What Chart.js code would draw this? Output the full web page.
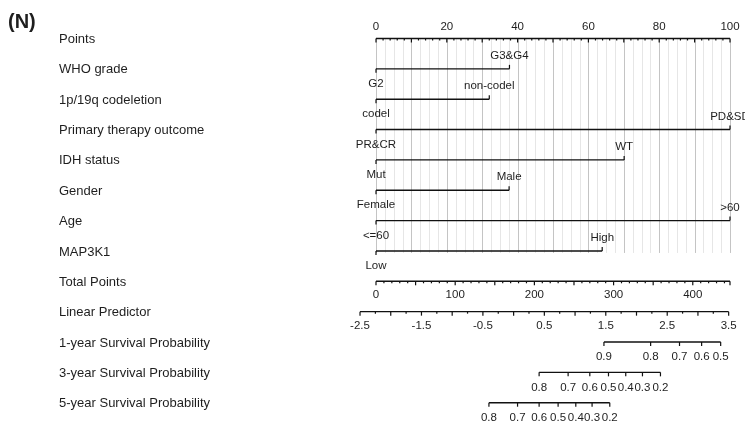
<!DOCTYPE html>
<html><head><meta charset="utf-8">
<script src="https://cdn.jsdelivr.net/npm/chart.js@4"></script>
<style>html,body{margin:0;padding:0;background:#fff}#wrap{width:745px;height:423px;position:relative}</style>
</head><body><div id="wrap"><canvas id="c"></canvas></div>
<script>
const panelTag = '(N)';
const rowLabels = ['Points','WHO grade','1p/19q codeletion','Primary therapy outcome','IDH status','Gender','Age','MAP3K1','Total Points','Linear Predictor','1-year Survival Probability','3-year Survival Probability','5-year Survival Probability'];
const predictorLevels = [['G2','G3&G4'],['codel','non-codel'],['PR&CR','PD&SD'],['Mut','WT'],['Female','Male'],['<=60','>60'],['Low','High']];
const predictorPoints = [[0,37.7],[0,32],[0,100],[0,70.1],[0,37.6],[0,100],[0,63.9]];
const pointsTickLabels = [0,20,40,60,80,100];
const totalPointsTickLabels = [0,100,200,300,400];
const totalPointsMax = 447;
const lpTickLabels = [-2.5,-1.5,-0.5,0.5,1.5,2.5,3.5];
const lpAtZeroTotal = -2.24;
const lpPerTotalPoint = 0.01289;
const surv1Probs = [0.9,0.8,0.7,0.6,0.5];
const surv1LP = [1.47,2.23,2.70,3.06,3.37];
const surv3Probs = [0.8,0.7,0.6,0.5,0.4,0.3,0.2];
const surv3LP = [0.415,0.887,1.24,1.544,1.825,2.097,2.39];
const surv5Probs = [0.8,0.7,0.6,0.5,0.4,0.3,0.2];
const surv5LP = [-0.402,0.064,0.415,0.724,1.012,1.277,1.565];

const totalToPoints = tp => tp * 100 / totalPointsMax;
const lpToPoints = lp => totalToPoints((lp - lpAtZeroTotal) / lpPerTotalPoint);
const survRows = [[surv1Probs, surv1LP], [surv3Probs, surv3LP], [surv5Probs, surv5LP]];

const FONT = '"Liberation Sans", Arial, sans-serif';
const INK = '#1e1e1e';

function seg(x0, x1, row) {
  return {data: [{x: x0, y: row}, {x: x1, y: row}], borderColor: '#111', borderWidth: 1.4,
          pointRadius: 0, clip: false, tension: 0, fill: false};
}
const datasets = [];
datasets.push(seg(0, 100, 0));
predictorPoints.forEach((p, i) => datasets.push(seg(Math.min(...p), Math.max(...p), i + 1)));
datasets.push(seg(totalToPoints(0), totalToPoints(totalPointsMax), 8));
datasets.push(seg(lpToPoints(lpTickLabels[0]), lpToPoints(lpTickLabels[lpTickLabels.length - 1]), 9));
survRows.forEach((s, i) => datasets.push(seg(lpToPoints(Math.min(...s[1])), lpToPoints(Math.max(...s[1])), 10 + i)));

const nomoPlugin = {
  id: 'nomo',
  beforeDatasetsDraw(chart) {
    const ctx = chart.ctx, xs = chart.scales.x, ys = chart.scales.y;
    const y0 = ys.getPixelForValue(0), y1 = ys.getPixelForValue(7) + 2;
    ctx.save();
    ctx.lineWidth = 1;
    for (let k = 0; k <= 40; k++) {
      const v = k * 2.5;
      const x = Math.round(xs.getPixelForValue(v)) + 0.5;
      ctx.strokeStyle = (k % 4 === 0) ? '#c4c4c4' : '#e6e6e6';
      ctx.beginPath(); ctx.moveTo(x, y0); ctx.lineTo(x, y1); ctx.stroke();
    }
    ctx.restore();
  },
  afterDatasetsDraw(chart) {
    const ctx = chart.ctx, xs = chart.scales.x, ys = chart.scales.y;
    const X = v => xs.getPixelForValue(v), Y = r => ys.getPixelForValue(r);
    ctx.save();
    ctx.strokeStyle = '#111'; ctx.lineWidth = 1.2;
    const tick = (x, y, len) => { ctx.beginPath(); ctx.moveTo(x, y); ctx.lineTo(x, y + len); ctx.stroke(); };
    ctx.fillStyle = INK;
    ctx.textBaseline = 'middle';
    ctx.font = 'bold 20px ' + FONT; ctx.textAlign = 'left';
    ctx.fillText(panelTag, 8, 22);
    ctx.font = '13px ' + FONT;
    rowLabels.forEach((t, i) => ctx.fillText(t, 59, Y(i) + 1));
    ctx.font = '11.5px ' + FONT; ctx.textAlign = 'center';
    for (let v = 0; v <= 100; v += 2) tick(X(v), Y(0), v % 10 === 0 ? 4 : 2);
    pointsTickLabels.forEach(v => ctx.fillText(String(v), X(v), Y(0) - 12));
    predictorPoints.forEach((p, i) => {
      const r = i + 1;
      p.forEach((v, j) => {
        if (j % 2 === 0) { tick(X(v), Y(r), 4); ctx.fillText(predictorLevels[i][j], X(v), Y(r) + 15); }
        else { tick(X(v), Y(r), -4); ctx.fillText(predictorLevels[i][j], X(v), Y(r) - 13); }
      });
    });
    for (let v = 0; v <= totalPointsMax; v += 10) tick(X(totalToPoints(v)), Y(8), v % 50 === 0 ? 4 : 2);
    tick(X(totalToPoints(totalPointsMax)), Y(8), 4);
    totalPointsTickLabels.forEach(v => ctx.fillText(String(v), X(totalToPoints(v)), Y(8) + 14));
    const lp0 = lpTickLabels[0], lp1 = lpTickLabels[lpTickLabels.length - 1];
    for (let k = 0; lp0 + k * 0.25 <= lp1 + 1e-9; k++) tick(X(lpToPoints(lp0 + k * 0.25)), Y(9), k % 2 === 0 ? 4 : 2);
    lpTickLabels.forEach(v => ctx.fillText(String(v), X(lpToPoints(v)), Y(9) + 14));
    survRows.forEach((s, i) => {
      const r = 10 + i;
      s[1].forEach((lp, j) => {
        tick(X(lpToPoints(lp)), Y(r), 4);
        ctx.fillText(String(s[0][j]), X(lpToPoints(lp)), Y(r) + 15);
      });
    });
    ctx.restore();
  }
};

new Chart(document.getElementById('c'), {
  type: 'line',
  data: {datasets},
  options: {
    responsive: true, maintainAspectRatio: false, animation: false,
    layout: {padding: {left: 376, right: 15, top: 38.5, bottom: 20.3}},
    scales: {
      x: {type: 'linear', min: 0, max: 100, display: false},
      y: {type: 'linear', min: 0, max: 12, reverse: true, display: false}
    },
    plugins: {legend: {display: false}, tooltip: {enabled: false}}
  },
  plugins: [nomoPlugin]
});
</script></body></html>
